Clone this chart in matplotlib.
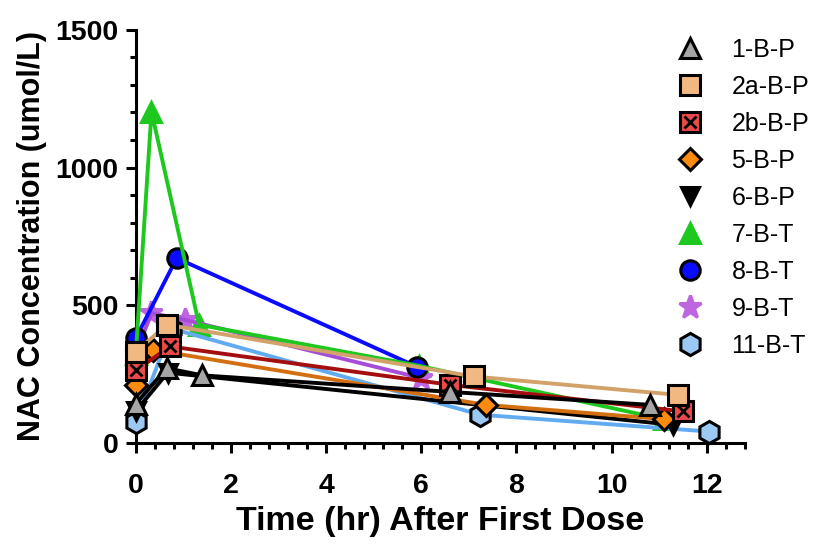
import matplotlib.pyplot as plt
from matplotlib.ticker import MultipleLocator
from matplotlib.lines import Line2D

plt.rcParams['font.family'] = ['Liberation Sans', 'DejaVu Sans']

# data (time in hr, NAC in umol/L)
t_1bp = [0, 0.65, 1.4, 6.6, 10.8]
y_1bp = [142, 271, 245, 185, 138]
t_2abp = [0, 0.65, 7.1, 11.4]
y_2abp = [330, 429, 241, 174]
t_2bbp = [0, 0.72, 6.6, 11.5]
y_2bbp = [263, 350, 211, 114]
t_5bp = [0, 0.36, 7.35, 11.1]
y_5bp = [211, 338, 138, 86]
t_6bp = [0, 0.67, 11.3]
y_6bp = [115, 255, 65]
t_7bt = [0, 0.33, 1.33, 5.95, 11.1]
y_7bt = [322, 1203, 429, 280, 85]
t_8bt = [0, 0.86, 5.9]
y_8bt = [380, 671, 277]
t_9bt = [0, 0.33, 1.03, 6.0]
y_9bt = [325, 471, 447, 235]
t_11bt = [0, 0.75, 7.24, 12.05]
y_11bt = [77, 415, 102, 41]

labels = ['1-B-P', '2a-B-P', '2b-B-P', '5-B-P', '6-B-P', '7-B-T', '8-B-T', '9-B-T', '11-B-T']
series = [(t_1bp, y_1bp), (t_2abp, y_2abp), (t_2bbp, y_2bbp), (t_5bp, y_5bp), (t_6bp, y_6bp),
          (t_7bt, y_7bt), (t_8bt, y_8bt), (t_9bt, y_9bt), (t_11bt, y_11bt)]

# (line colour, marker, face, edge, size)
styles = [
    ('black', '^', '#a6a6a6', 'black', 15),
    ('#d2a26a', 's', '#f2b882', 'black', 15),
    ('#a50e0e', 's', '#ec4a4a', 'black', 14),
    ('#d36f10', 'D', '#ff8a10', 'black', 11),
    ('black', 'v', 'black', 'black', 13),
    ('#1ec81e', '^', '#1ec81e', '#1ec81e', 15),
    ('#0a0aff', 'o', '#0a0aff', 'black', 14),
    ('#a64cd6', '*', '#bd66e0', '#bd66e0', 17),
    ('#62abf0', 'h', '#9cc8f4', 'black', 16),
]

fig = plt.figure(figsize=(8.23, 5.44), dpi=100)
ax = fig.add_axes([0.165, 0.186, 0.74, 0.759])

handles = []
n = len(series)
for i, ((t, y), (lc, mk, fc, ec, ms)) in enumerate(zip(series, styles)):
    z = 10 + (n - i) * 2
    # markers of the later series sit under the others
    mz = z + 1 if labels[i] not in ('7-B-T', '9-B-T') else 9
    ax.plot(t, y, color=lc, lw=2.8, zorder=z, clip_on=False)
    ax.plot(t, y, ls='none', marker=mk, ms=ms, mfc=fc, mec=ec, mew=2.2, zorder=mz, clip_on=False)
    h = Line2D([], [], ls='none', marker=mk, ms=ms, mfc=fc, mec=ec, mew=2.2)
    if labels[i] == '2b-B-P':
        ax.plot(t, y, ls='none', marker='x', ms=ms * 0.62, mec='black', mew=2.0, zorder=z + 1.5, clip_on=False)
        hx = Line2D([], [], ls='none', marker='x', ms=ms * 0.62, mec='black', mew=2.0)
        h = (h, hx)
    handles.append(h)

ax.set_xlim(0, 12.8)
ax.set_ylim(0, 1500)
ax.xaxis.set_major_locator(MultipleLocator(2))
ax.xaxis.set_minor_locator(MultipleLocator(0.4))
ax.yaxis.set_major_locator(MultipleLocator(500))
ax.yaxis.set_minor_locator(MultipleLocator(100))

for s in ['top', 'right']:
    ax.spines[s].set_visible(False)
for s in ['left', 'bottom']:
    ax.spines[s].set_linewidth(2.2)
ax.tick_params(which='major', length=7.5, width=2.2, labelsize=20.5, pad=5)
ax.tick_params(axis='x', which='major', pad=14)
ax.tick_params(which='minor', length=4.5, width=2.2)
for lab in ax.get_xticklabels() + ax.get_yticklabels():
    lab.set_fontweight('bold')

ax.set_xlabel('Time (hr) After First Dose', fontsize=24.5, fontweight='bold', labelpad=5)
ax.set_ylabel('NAC Concentration (umol/L)', fontsize=22, fontweight='bold', labelpad=6)

fig.legend(handles, labels, loc='upper left', bbox_to_anchor=(0.79, 0.972), frameon=False,
           fontsize=18, labelspacing=0.52, handletextpad=0.95, handlelength=1.4)

fig.savefig('out.png', dpi=100)
